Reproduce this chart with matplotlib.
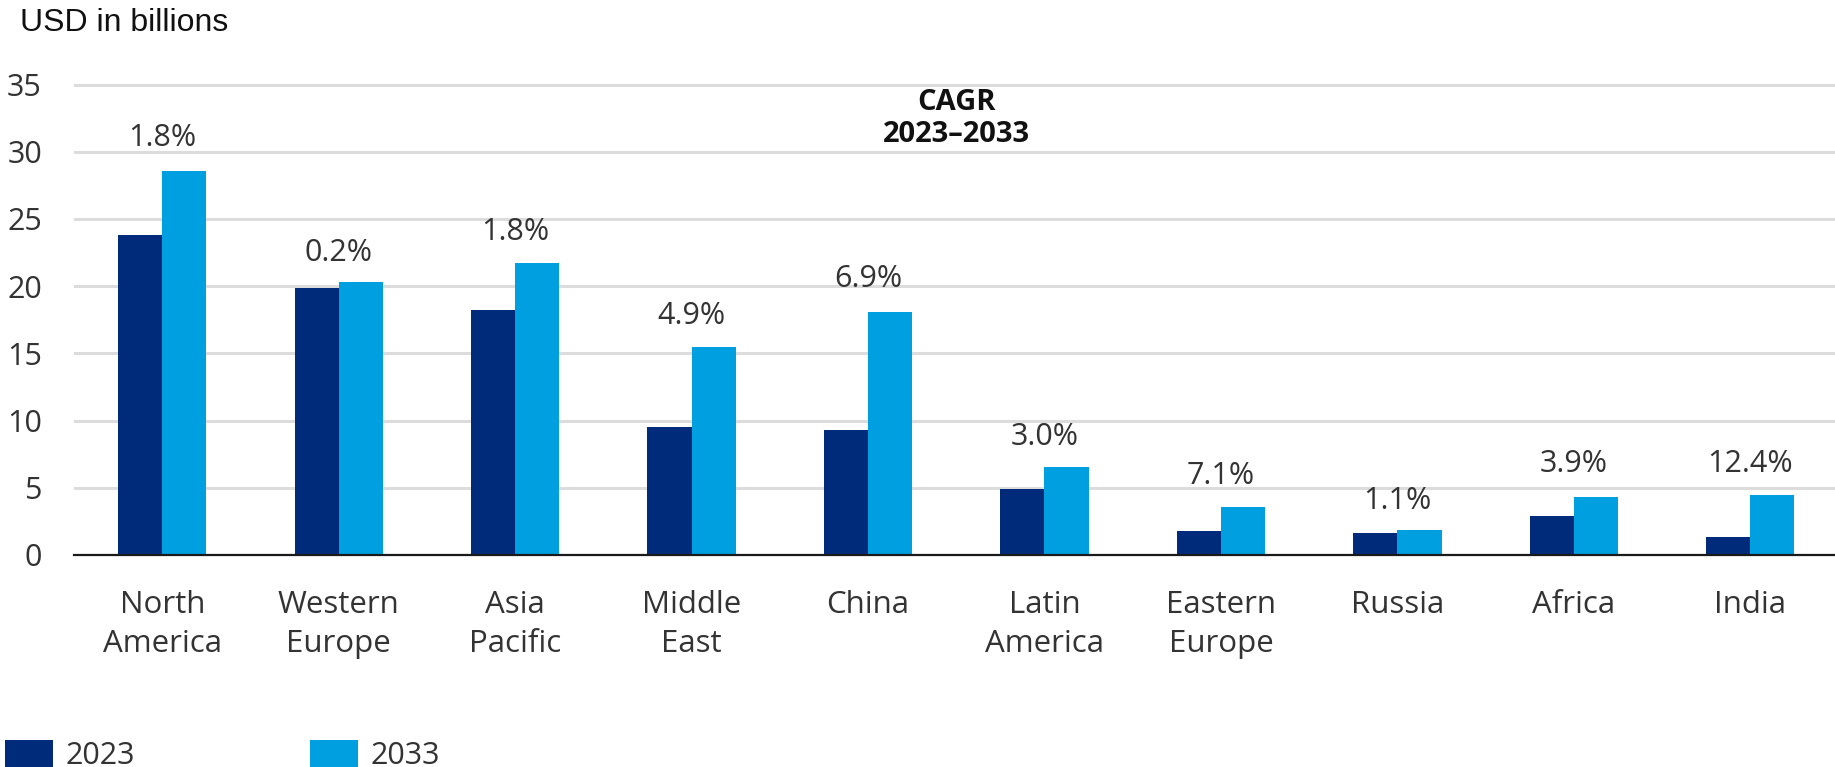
#coding: utf-8

import numpy as np
import matplotlib
matplotlib.use('Agg')
import matplotlib.pyplot as plt

regions = ['North\nAmerica', 'Western\nEurope', 'Asia\nPacific', 'Middle\nEast', 'China',
	'Latin\nAmerica', 'Eastern\nEurope', 'Russia', 'Africa', 'India']
values_2023 = [23.8, 19.9, 18.2, 9.55, 9.3, 4.9, 1.8, 1.6, 2.9, 1.35]
values_2033 = [28.6, 20.3, 21.7, 15.45, 18.1, 6.55, 3.55, 1.85, 4.3, 4.45]
cagr = ['1.8%', '0.2%', '1.8%', '4.9%', '6.9%', '3.0%', '7.1%', '1.1%', '3.9%', '12.4%']
# heights where the CAGR labels sit in the original (data units)
cagr_label_y = [31.0, 22.5, 24.0, 17.8, 20.5, 8.8, 5.85, 4.0, 6.75, 6.75]
y_ticks = [0, 5, 10, 15, 20, 25, 30, 35]

DARK = '#002B7A'
LIGHT = '#009FE0'
TEXT = '#333333'

def generate_plot(output):
	plt.rcParams['font.family'] = ['Open Sans', 'DejaVu Sans']

	fig = plt.figure(figsize=(18.35, 7.67), dpi=100)
	# axes placed in pixels: left 74, baseline at 555, 13.44 px per unit
	ax = fig.add_axes([74 / 1835., 1 - 555 / 767., 1761 / 1835., 35.5 * 13.44 / 767.])

	x = np.arange(len(regions))
	w = 0.25
	ax.bar(x - w / 2, values_2023, w, color=DARK, label='2023', zorder=3)
	ax.bar(x + w / 2, values_2033, w, color=LIGHT, label='2033', zorder=3)

	for i in range(len(regions)):
		ax.text(x[i], cagr_label_y[i], cagr[i], ha='center', va='center', fontsize=22, color=TEXT)

	ax.text(4.50, 32.5, 'CAGR\n2023\u20132033', ha='center', va='center', fontsize=21,
		fontweight='bold', color='#111111', linespacing=1.15)

	ax.set_xlim(-0.5, 9.48)
	ax.set_ylim(0, 35.5)
	ax.set_yticks(y_ticks)
	ax.set_xticks(x)
	ax.set_xticklabels(regions, linespacing=1.42)
	ax.tick_params(axis='both', length=0, labelsize=22, colors=TEXT)
	ax.tick_params(axis='x', labelsize=22.5, pad=25)
	ax.tick_params(axis='y', pad=23)

	ax.yaxis.grid(True, color='#dcdcdc', lw=2.2)
	ax.set_axisbelow(True)
	for s in ['top', 'right', 'left']:
		ax.spines[s].set_visible(False)
	ax.spines['bottom'].set_color('#1a1a1a')
	ax.spines['bottom'].set_linewidth(1.6)
	ax.spines['bottom'].set_zorder(4)

	fig.text(20 / 1835., 1 - 23 / 767., 'USD in billions', ha='left', va='center',
		fontsize=23, family='Liberation Sans', color='#111111')

	leg = fig.legend(loc='upper left', bbox_to_anchor=(5 / 1835., 1 - 740 / 767.), ncol=2,
		frameon=False, borderpad=0, borderaxespad=0, handlelength=1.57, handleheight=1.0,
		handletextpad=0.4, columnspacing=5.75, fontsize=22)
	for t in leg.get_texts():
		t.set_color(TEXT)

	fig.savefig(output, dpi=100)

if __name__ == "__main__":
	generate_plot('out.png')
	print('Done')
